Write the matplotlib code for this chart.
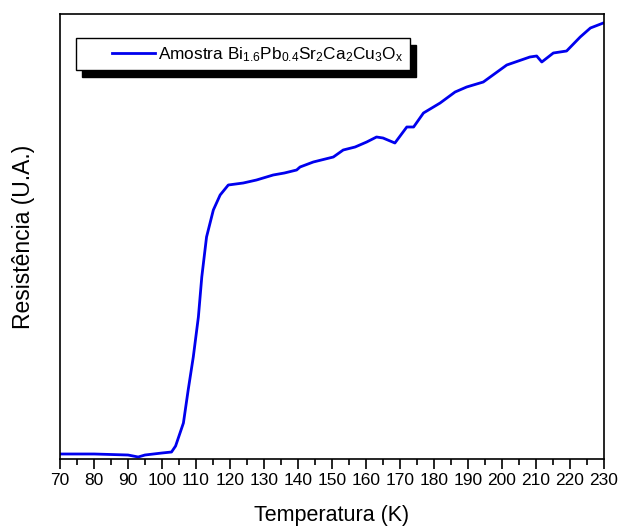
import matplotlib
matplotlib.use("Agg")
import matplotlib.pyplot as plt
from matplotlib.ticker import MultipleLocator, NullLocator
from matplotlib.legend_handler import HandlerLine2D

plt.rcParams['font.family'] = ['Liberation Sans', 'DejaVu Sans']
plt.rcParams['mathtext.fontset'] = 'custom'
plt.rcParams['mathtext.rm'] = 'Liberation Sans'
plt.rcParams['mathtext.it'] = 'Liberation Sans'

temperature = [70, 80, 90, 93, 95, 100, 102.8, 104, 105.3, 106.3, 107.7, 109.2, 110.7,
               111.7, 113.1, 115.1, 117.1, 119.5, 123.9, 127.8, 132.7, 136, 139.6,
               140.6, 144.5, 150.4, 153.3, 156.8, 160.2, 163.1, 165, 168.5, 172,
               174, 176.9, 181.8, 186.2, 189.6, 194.5, 201.4, 208.2, 210.2, 211.7,
               215.1, 219, 223, 226, 229.8]
resistance = [5, 5, 4, 2, 4, 6, 7, 13, 26, 36, 69, 102, 142,
              182, 222, 249, 264, 274, 276, 279, 284, 286, 289,
              292, 297, 302, 309, 312, 317, 322, 321, 316, 332,
              332, 346, 356, 367, 372, 377, 394, 402, 403, 397,
              406, 408, 422, 431, 436]
label = r'Amostra Bi$_{1.6}$Pb$_{0.4}$Sr$_2$Ca$_2$Cu$_3$O$_x$'


class OffsetLineHandler(HandlerLine2D):
    def create_artists(self, legend, orig_handle, xdescent, ydescent, width,
                       height, fontsize, trans):
        artists = super().create_artists(legend, orig_handle, xdescent, ydescent,
                                         width, height, fontsize, trans)
        line = artists[0]
        x = list(line.get_xdata())
        y = list(line.get_ydata())
        line.set_data([x[0] + 0.4 * (x[-1] - x[0]), x[-1]], [y[0], y[-1]])
        return artists


fig = plt.figure(figsize=(6.19, 5.26), dpi=100)
ax = fig.add_axes([60/619, 67/526, 544/619, 445/526])
ln, = ax.plot(temperature, resistance, color='#0000ee', lw=2, label=label)
ax.set_xlim(70, 230)
ax.set_ylim(0, 445)
ax.xaxis.set_major_locator(MultipleLocator(10))
ax.xaxis.set_minor_locator(MultipleLocator(5))
ax.yaxis.set_major_locator(NullLocator())
ax.tick_params(axis='x', which='major', direction='out', length=7, width=1.2,
               labelsize=12.5, pad=3)
ax.tick_params(axis='x', which='minor', direction='out', length=4, width=1.2)
for s in ax.spines.values():
    s.set_linewidth(1.2)
ax.set_xlabel('Temperatura (K)', fontsize=15.5, labelpad=12)
ax.set_ylabel('Resistência (U.A.)', fontsize=16.5, labelpad=18)
leg = ax.legend(loc='upper left', bbox_to_anchor=(16/544, 421/445), borderaxespad=0,
                fancybox=False, edgecolor='black', framealpha=1, fontsize=12.4,
                shadow={'ox': 4.5, 'oy': -5, 'color': 'black', 'alpha': 1},
                handlelength=4.2, borderpad=0.4, handletextpad=0.15,
                handler_map={ln: OffsetLineHandler()})
leg.get_frame().set_linewidth(1)
fig.savefig('out.png', dpi=100)
